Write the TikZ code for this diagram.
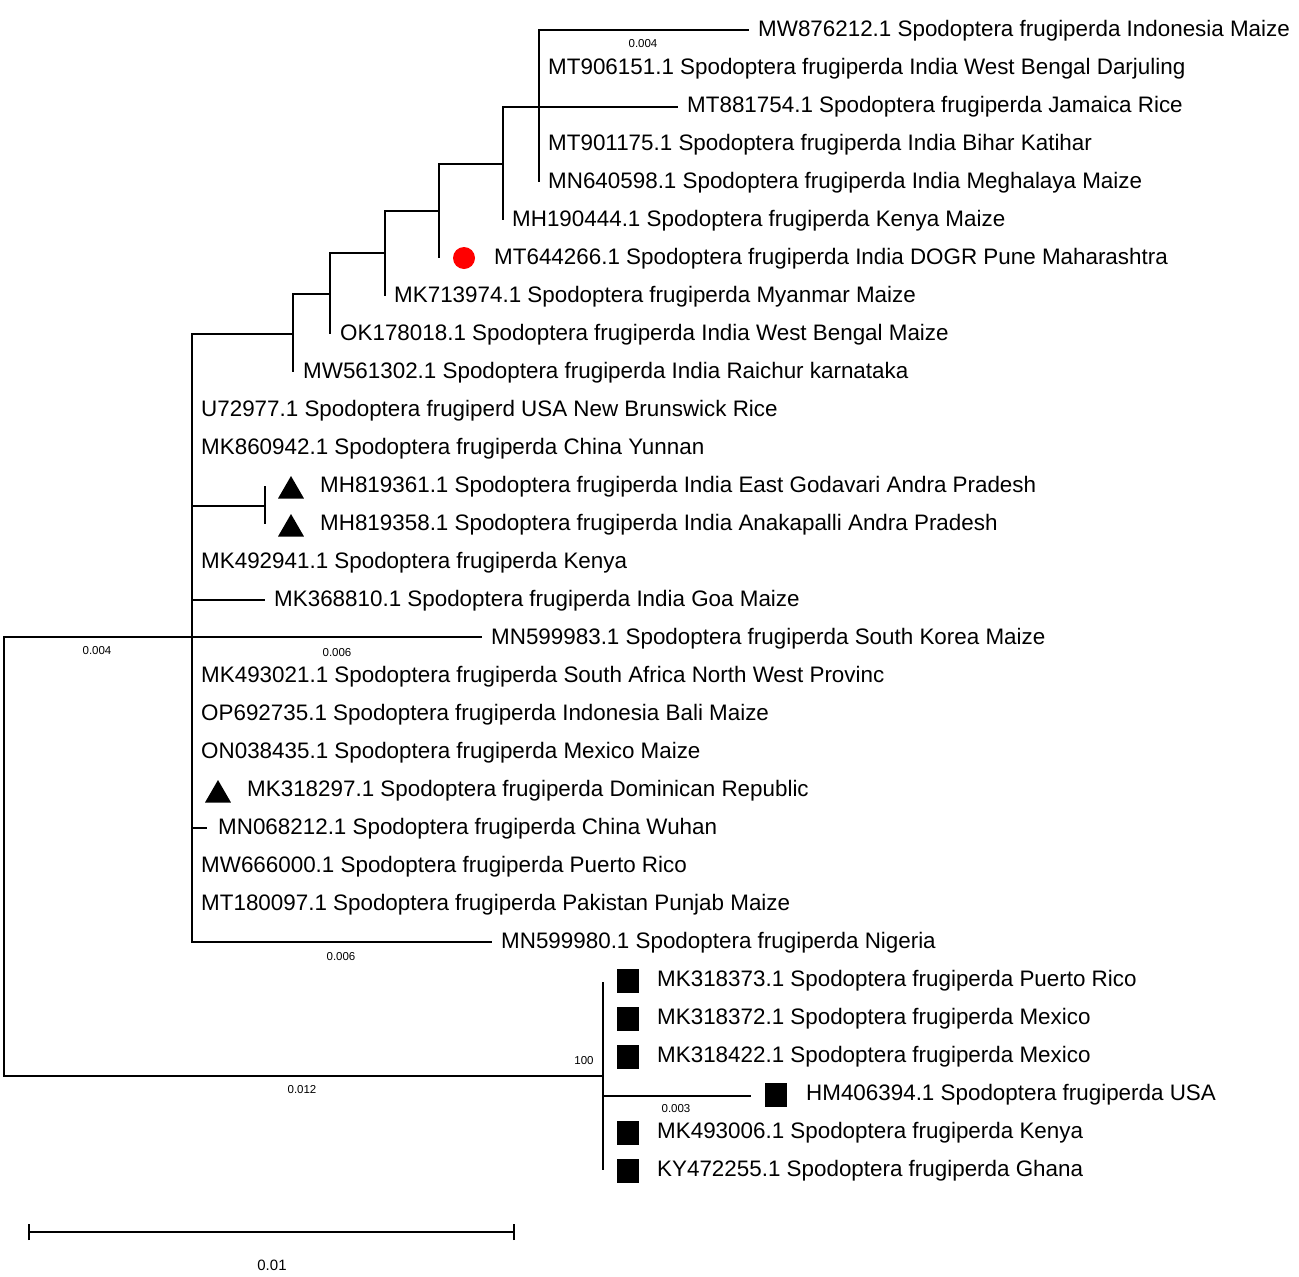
\documentclass[tikz,border=0pt]{standalone}
\usepackage{fontspec}
\setmainfont{Liberation Sans}
\usetikzlibrary{shapes.geometric}
\tikzset{
  br/.style={line width=1.2pt, black},
  lf/.style={anchor=base west, inner sep=0pt, font=\fontsize{22.4}{26}\selectfont},
  bl/.style={anchor=center, inner sep=0pt, font=\fontsize{11.5}{13}\selectfont},
  tri/.style={regular polygon, regular polygon sides=3, fill=black, inner sep=0pt, minimum size=30pt},
  sq/.style={rectangle, fill=black, inner sep=0pt, minimum width=22pt, minimum height=24pt},
  dot/.style={circle, fill=red, inner sep=0pt, minimum size=22pt}
}
\begin{document}
\begin{tikzpicture}[x=1pt,y=-1pt]
\useasboundingbox (0,0) rectangle (1299,1277);
% internal nodes
\coordinate (R) at (4,856);
\coordinate (A) at (192,637);
\coordinate (O) at (603,1076);
\coordinate (B) at (293,334);
\coordinate (C) at (265,506);
\coordinate (D) at (330,294);
\coordinate (E) at (385,253);
\coordinate (F) at (439,211);
\coordinate (G) at (503,164);
\coordinate (H) at (539,107);
% branch ends
\coordinate (t0) at (749,30);
\coordinate (l1) at (539,68);
\coordinate (t2) at (678,107);
\coordinate (l4) at (539,182);
\coordinate (l5) at (503,220);
\coordinate (l6) at (439,258);
\coordinate (l7) at (385,296);
\coordinate (l8) at (330,334);
\coordinate (l9) at (293,372);
\coordinate (l12) at (265,486);
\coordinate (l13) at (265,524);
\coordinate (t15) at (265,600);
\coordinate (t16) at (482,637);
\coordinate (t21) at (207,828);
\coordinate (t24) at (492,942);
\coordinate (l25) at (603,982);
\coordinate (t28) at (751,1096);
\coordinate (l30) at (603,1170);
% branches
\draw[br] (R) |- (A);
\draw[br] (R) |- (O);
\draw[br] (A) |- (B);
\draw[br] (A) |- (C);
\draw[br] (A) |- (t15);
\draw[br] (A) |- (t16);
\draw[br] (A) |- (t21);
\draw[br] (A) |- (t24);
\draw[br] (B) |- (D);
\draw[br] (B) |- (l9);
\draw[br] (D) |- (E);
\draw[br] (D) |- (l8);
\draw[br] (E) |- (F);
\draw[br] (E) |- (l7);
\draw[br] (F) |- (G);
\draw[br] (F) |- (l6);
\draw[br] (G) |- (H);
\draw[br] (G) |- (l5);
\draw[br] (H) |- (t0);
\draw[br] (H) |- (l1);
\draw[br] (H) |- (t2);
\draw[br] (H) |- (l4);
\draw[br] (C) |- (l12);
\draw[br] (C) |- (l13);
\draw[br] (O) |- (l25);
\draw[br] (O) |- (t28);
\draw[br] (O) |- (l30);
% markers
\node[dot] (m6) at (464,258) {};
\node[tri] (m12) at (291,491) {};
\node[tri] (m13) at (291,529) {};
\node[tri] (m20) at (218,795) {};
\node[sq] (m25) at (628,981) {};
\node[sq] (m26) at (628,1019) {};
\node[sq] (m27) at (628,1057) {};
\node[sq] (m28) at (776,1095) {};
\node[sq] (m29) at (628,1133) {};
\node[sq] (m30) at (628,1171) {};
% leaf labels
\node[lf] (L0) at (758,36) {MW876212.1 Spodoptera frugiperda Indonesia Maize};
\node[lf] (L1) at (548,74) {MT906151.1 Spodoptera frugiperda India West Bengal Darjuling};
\node[lf] (L2) at (687,112) {MT881754.1 Spodoptera frugiperda Jamaica Rice};
\node[lf] (L3) at (548,150) {MT901175.1 Spodoptera frugiperda India Bihar Katihar};
\node[lf] (L4) at (548,188) {MN640598.1 Spodoptera frugiperda India Meghalaya Maize};
\node[lf] (L5) at (512,226) {MH190444.1 Spodoptera frugiperda Kenya Maize};
\node[lf] (L6) at (494,264) {MT644266.1 Spodoptera frugiperda India DOGR Pune Maharashtra};
\node[lf] (L7) at (394,302) {MK713974.1 Spodoptera frugiperda Myanmar Maize};
\node[lf] (L8) at (340,340) {OK178018.1 Spodoptera frugiperda India West Bengal Maize};
\node[lf] (L9) at (303,378) {MW561302.1 Spodoptera frugiperda India Raichur karnataka};
\node[lf] (L10) at (201,416) {U72977.1 Spodoptera frugiperd USA New Brunswick Rice};
\node[lf] (L11) at (201,454) {MK860942.1 Spodoptera frugiperda China Yunnan};
\node[lf] (L12) at (320,492) {MH819361.1 Spodoptera frugiperda India East Godavari Andra Pradesh};
\node[lf] (L13) at (320,530) {MH819358.1 Spodoptera frugiperda India Anakapalli Andra Pradesh};
\node[lf] (L14) at (201,568) {MK492941.1 Spodoptera frugiperda Kenya};
\node[lf] (L15) at (274,606) {MK368810.1 Spodoptera frugiperda India Goa Maize};
\node[lf] (L16) at (491,644) {MN599983.1 Spodoptera frugiperda South Korea Maize};
\node[lf] (L17) at (201,682) {MK493021.1 Spodoptera frugiperda South Africa North West Provinc};
\node[lf] (L18) at (201,720) {OP692735.1 Spodoptera frugiperda Indonesia Bali Maize};
\node[lf] (L19) at (201,758) {ON038435.1 Spodoptera frugiperda Mexico Maize};
\node[lf] (L20) at (247,796) {MK318297.1 Spodoptera frugiperda Dominican Republic};
\node[lf] (L21) at (218,834) {MN068212.1 Spodoptera frugiperda China Wuhan};
\node[lf] (L22) at (201,872) {MW666000.1 Spodoptera frugiperda Puerto Rico};
\node[lf] (L23) at (201,910) {MT180097.1 Spodoptera frugiperda Pakistan Punjab Maize};
\node[lf] (L24) at (501,948) {MN599980.1 Spodoptera frugiperda Nigeria};
\node[lf] (L25) at (657,986) {MK318373.1 Spodoptera frugiperda Puerto Rico};
\node[lf] (L26) at (657,1024) {MK318372.1 Spodoptera frugiperda Mexico};
\node[lf] (L27) at (657,1062) {MK318422.1 Spodoptera frugiperda Mexico};
\node[lf] (L28) at (806,1100) {HM406394.1 Spodoptera frugiperda USA};
\node[lf] (L29) at (657,1138) {MK493006.1 Spodoptera frugiperda Kenya};
\node[lf] (L30) at (657,1176) {KY472255.1 Spodoptera frugiperda Ghana};
% branch labels
\node[bl] (b1) at (643,44) {0.004};
\node[bl] (b2) at (97,651) {0.004};
\node[bl] (b3) at (337,653) {0.006};
\node[bl] (b4) at (341,957) {0.006};
\node[bl] (b5) at (584,1061) {100};
\node[bl] (b6) at (302,1090) {0.012};
\node[bl] (b7) at (676,1109) {0.003};
% scale bar
\coordinate (s1) at (29,1232);
\coordinate (s2) at (514,1232);
\draw[line width=2.4pt] (s1) -- (s2);
\draw[line width=2.4pt] ([yshift=-8pt]s1) -- ([yshift=8pt]s1);
\draw[line width=2.4pt] ([yshift=-8pt]s2) -- ([yshift=8pt]s2);
\node[anchor=center, inner sep=0pt, font=\fontsize{15}{17}\selectfont] (sl) at (272,1265) {0.01};
\end{tikzpicture}
\end{document}
